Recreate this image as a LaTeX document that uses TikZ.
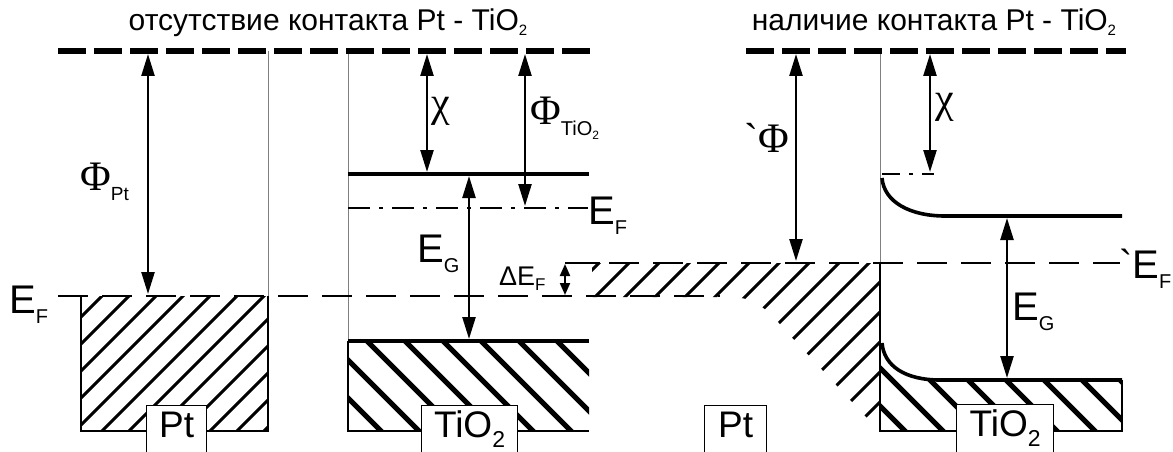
\documentclass[tikz,border=0pt]{standalone}
\usepackage{fontspec}
\setmainfont{Liberation Sans}[Ligatures=TeXOff]
\newfontfamily\greek{Liberation Serif}[Ligatures=TeXOff]
\usetikzlibrary{arrows.meta}

% lowered subscript: shift, size, text
\newcommand{\lowsub}[3]{\raisebox{#1}{\fontsize{#2}{#2}\selectfont #3}}

\begin{document}
\begin{tikzpicture}[
  x=1pt, y=-1pt,
  vacuum/.style={line width=5.5pt, dash pattern=on 28pt off 8pt},
  band/.style={line width=3.6pt},
  fermi/.style={line width=2.6pt, dash pattern=on 30pt off 14pt},
  fermidot/.style={line width=2.6pt, dash pattern=on 22pt off 9pt on 4pt off 9pt},
  guide/.style={line width=0.9pt, black!50},
  rim/.style={line width=1.1pt},
  hatchthin/.style={line width=3pt},
  hatchthick/.style={line width=5pt},
  dim/.style={line width=2.4pt, {Triangle[length=22pt,width=13pt]}-{Triangle[length=22pt,width=13pt]}},
  smalldim/.style={line width=2pt, {Triangle[length=12pt,width=10pt]}-{Triangle[length=12pt,width=10pt]}},
  title/.style={font=\fontsize{30}{32}\selectfont, inner sep=0pt, anchor=base},
  lbl/.style={font=\fontsize{40}{42}\selectfont, inner sep=0pt, anchor=base west},
  greeklbl/.style={font=\greek\fontsize{42}{44}\selectfont, inner sep=0pt, anchor=base west},
  tag/.style={draw, rim, fill=white, anchor=north west, font=\fontsize{37}{38}\selectfont,
    inner xsep=0pt, inner ysep=3pt, text height=29pt, text depth=30pt}
]
\useasboundingbox (0,0) rectangle (1173,452);

% hatched regions
\begin{scope}
  \clip (81,296) rectangle (268,431);
  \foreach \s in {-60,-33,...,270} \draw[hatchthin] (\s,431) -- ++(150,-150);
\end{scope}
\begin{scope}
  \clip (348,341) rectangle (589,431);
  \foreach \s in {253,291,...,589} \draw[hatchthick] (\s,341) -- ++(100,100);
\end{scope}
\begin{scope}
  \clip (592,263) -- (880,263) -- (880,432) -- (785,330)
    .. controls (765,306) and (752,297) .. (730,297) -- (592,297) -- cycle;
  \foreach \s in {430,460,...,880} \draw[hatchthin] (\s,432) -- ++(180,-180);
\end{scope}
\begin{scope}
  \clip (881,343) .. controls (883,366) and (905,380) .. (940,380)
    -- (1122,380) -- (1122,431) -- (881,431) -- cycle;
  \foreach \s in {766,804,...,1122} \draw[hatchthick] (\s,330) -- ++(110,110);
\end{scope}

% guides and box edges
\draw[guide] (268,51) -- (268,296);
\draw[guide] (348,51) -- (348,341);
\draw[guide] (880,51) -- (880,263);
\draw[rim] (81,296) -- (81,431) -- (268,431) -- (268,296);
\draw[rim] (348,341) -- (348,431) -- (589,431);
\draw[line width=1.6pt] (880,263) -- (880,431) -- (1122,431) -- (1122,380);

% levels
\draw[vacuum] (58,51) -- (592,51);
\draw[vacuum] (746,51) -- (1126,51);
\draw[band] (348,174) -- (589,174);
\draw[band] (348,341) -- (589,341);
\draw[fermidot] (348,208) -- (588,208);
\draw[fermi] (58,296) -- (720,296);
\draw[fermi] (565,263) -- (1120,263);
\draw[band] (882,178) .. controls (884,202) and (910,216) .. (945,216) -- (1122,216);
\draw[band] (882,343) .. controls (884,366) and (905,380) .. (940,380) -- (1122,380);
\draw[line width=2pt, dash pattern=on 18pt off 9pt on 4pt off 9pt] (882,174) -- (934,174);

% arrows
\draw[dim] (148,54) -- (148,294);
\draw[dim] (427,54) -- (427,172);
\draw[dim] (525,54) -- (525,206);
\draw[dim] (469,176) -- (469,339);
\draw[smalldim] (565,264) -- (565,295);
\draw[line width=2.4pt] (565,263) -- (600,263);
\draw[dim] (796,54) -- (796,261);
\draw[dim] (930,54) -- (930,172);
\draw[dim] (1007,218) -- (1007,378);

% titles
\node[title] (titleleft) at (328,31) {отсутствие контакта Pt - TiO\lowsub{-5pt}{15}{2}};
\node[title] (titleright) at (934,31) {наличие контакта Pt - TiO\lowsub{-5pt}{15}{2}};

% labels
\node[lbl] (efleft) at (9,313) {E\lowsub{-10pt}{20}{F}};
\node[lbl] (efdot) at (588,224) {E\lowsub{-10pt}{20}{F}};
\node[lbl] (egleft) at (417,262) {E\lowsub{-10pt}{20}{G}};
\node[lbl] (egright) at (1012,320) {E\lowsub{-10pt}{20}{G}};
\node[lbl] (efright) at (1119,278) {`E\lowsub{-10pt}{20}{F}};
\node[lbl, font=\fontsize{27}{29}\selectfont] (def) at (499,285) {ΔE\lowsub{-5pt}{17}{F}};
\node[greeklbl] (phipt) at (80,190) {Φ\lowsub{-10pt}{19}{\rmfamily Pt}};
\node[greeklbl] (phitio) at (530,124) {Φ\lowsub{-12pt}{20}{\rmfamily TiO\lowsub{-3pt}{12}{2}}};
\node[greeklbl] (chileft) at (431,117) {χ};
\node[greeklbl] (chiright) at (935,112) {χ};
\node[greeklbl] (phicont) at (744,152) {`Φ};

% material tags
\node[tag, minimum width=60pt] (ptleft) at (146,405) {Pt};
\node[tag, minimum width=96pt] (tioleft) at (421,405) {TiO\lowsub{-10pt}{23}{2}};
\node[tag, minimum width=62pt] (ptmid) at (704,405) {Pt};
\node[tag, minimum width=97pt] (tioright) at (956,404) {TiO\lowsub{-10pt}{23}{2}};
\end{tikzpicture}
\end{document}
